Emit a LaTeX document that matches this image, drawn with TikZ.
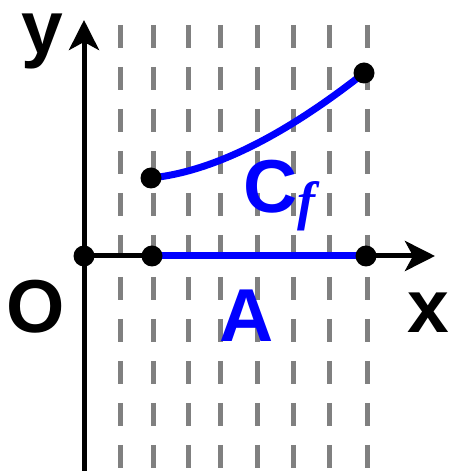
\documentclass[tikz,border=0pt]{standalone}
\usepackage{fontspec}
\setmainfont{Liberation Sans}
\newfontfamily\subfont{Liberation Serif}
\usetikzlibrary{arrows.meta}
\begin{document}
\begin{tikzpicture}[x=1pt, y=1pt, >={Stealth[length=30pt, width=30pt, inset=8pt]},
    axis/.style={line width=5pt, black},
    gridline/.style={line width=5pt, gray, dash pattern=on 23pt off 19pt},
    blueline/.style={line width=7pt, blue},
    lbl/.style={font=\fontsize{75}{75}\selectfont\bfseries, inner sep=0pt, anchor=base}]
    \useasboundingbox (0,0) rectangle (450,471);
    % 1. 竖直虚线 (最底层)
    \foreach \gx in {120,153,188,220,257,293,329,367}
        \draw[gridline] (\gx,446) -- (\gx,0);
    
    % 2. 坐标点
    \coordinate (O) at (84,215);
    \coordinate (ybot) at (84,-5);
    \coordinate (ytip) at (84,451);
    \coordinate (xtip) at (435,215);
    \coordinate (a) at (152,215);
    \coordinate (b) at (366,215);
    \coordinate (p) at (151,293);
    \coordinate (q) at (364,398);
    
    % 3. 坐标轴
    \draw[axis, ->] (ybot) -- (ytip);
    \draw[axis, ->] (O) -- (xtip);
    
    % 4. 曲线和线段
    \draw[blueline] (a) -- (b);
    \draw[blueline] (p) .. controls (212,299.3) and (283,334.3) .. (q);
    
    % 5. 端点
    \foreach \pt in {O,a,b,p,q}
        \fill[black] (\pt) circle (10.5);
    
    % 6. 标号
    \node[lbl] (ylab) at (42,417) {y};
    \node[lbl] (olab) at (36,138) {O};
    \node[lbl] (xlab) at (428,138) {x};
    \node[lbl, text=blue] (alab) at (247,129) {A};
    \node[lbl, text=blue, anchor=base west] (cflab) at (243,258) {C\raisebox{-7pt}{\fontsize{54}{54}\selectfont\subfont\bfseries\itshape f}};
\end{tikzpicture}
\end{document}
